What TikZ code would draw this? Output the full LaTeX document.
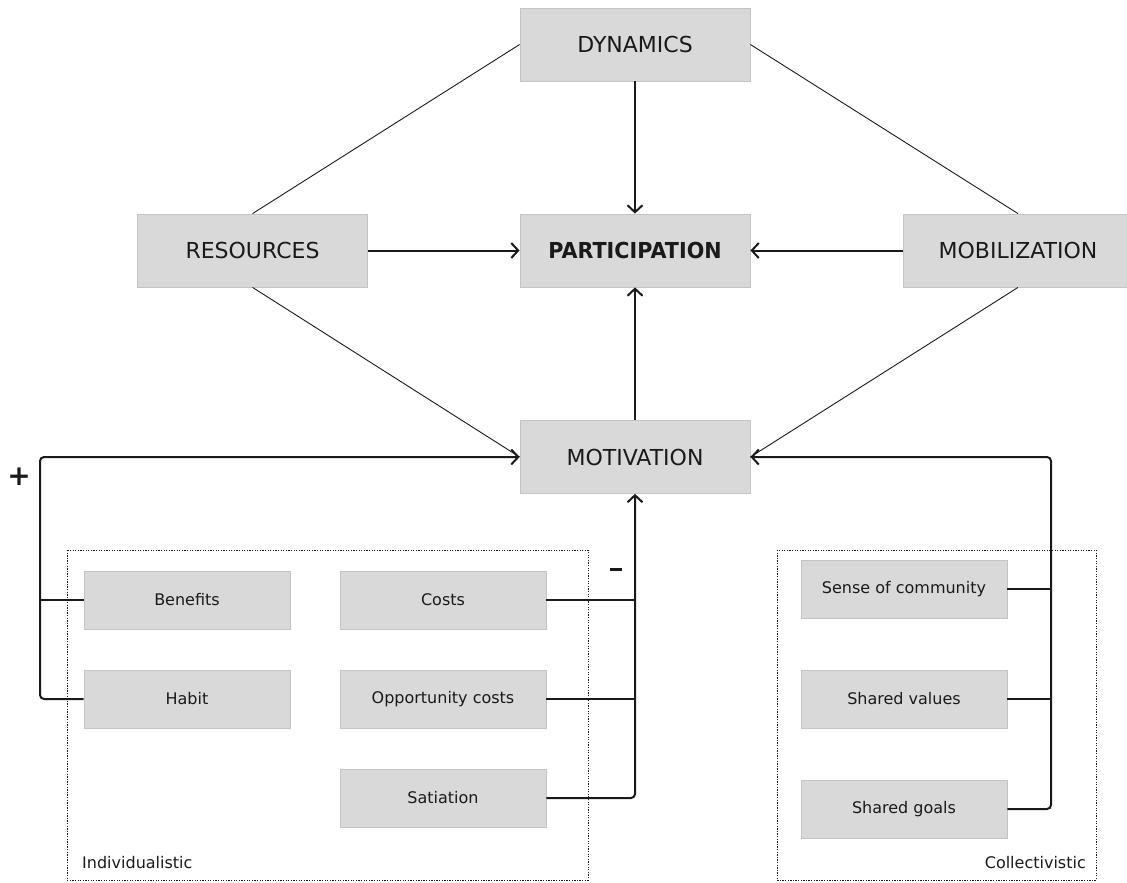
\documentclass[tikz,border=0pt]{standalone}
\usepackage{fontspec}
\setmainfont{DejaVu Sans}
\newfontfamily\pfont[FakeStretch=0.94]{DejaVu Sans}
\usetikzlibrary{arrows.meta}
\definecolor{boxfill}{HTML}{D9D9D9}
\definecolor{boxline}{HTML}{C4C4C4}
\definecolor{ink}{HTML}{1A1A1A}
\tikzset{
  bigbox/.style={rectangle, fill=boxfill, draw=boxline, line width=0.8pt,
    minimum width=230pt, minimum height=73pt, inner sep=0pt, text=ink,
    font=\fontsize{22}{26}\selectfont},
  smallbox/.style={rectangle, fill=boxfill, draw=boxline, line width=0.8pt,
    minimum width=206pt, minimum height=58pt, inner sep=0pt, text=ink,
    font=\fontsize{16}{19}\selectfont},
  thinline/.style={line width=0.9pt, draw=ink},
  thickline/.style={line width=2pt, draw=ink},
  arr/.style={thickline, -{Straight Barb[length=7pt,width=15pt]}},
  dotbox/.style={draw=ink, line width=0.9pt, dash pattern=on 1.3pt off 1.3pt},
  grouplabel/.style={text=ink, inner sep=0pt, font=\fontsize{16}{19}\selectfont},
  sign/.style={text=ink, inner sep=0pt, font=\fontsize{28}{32}\selectfont\bfseries}
}
\begin{document}
\begin{tikzpicture}[x=1pt, y=-1pt]
\useasboundingbox (0,0) rectangle (1127,883);

% group frames
\draw[dotbox] (67,550) rectangle (588,880);
\draw[dotbox] (777,550) rectangle (1096,880);
\node[grouplabel, anchor=base west] (indl) at (82,868) {Individualistic};
\node[grouplabel, anchor=base east] (coll) at (1086,868) {Collectivistic};

% main nodes
\node[bigbox] (dyn) at (635,44.5) {DYNAMICS};
\node[bigbox, font=\fontsize{22}{26}\pfont\bfseries] (part) at (635,250.5) {PARTICIPATION};
\node[bigbox] (res) at (252.5,250.5) {RESOURCES};
\node[bigbox] (mob) at (1018,250.5) {MOBILIZATION};
\node[bigbox] (mot) at (635,457) {MOTIVATION};

% small nodes
\node[smallbox] (ben) at (187,600) {Benefits};
\node[smallbox] (hab) at (187,699) {Habit};
\node[smallbox] (cost) at (443,600) {Costs};
\node[smallbox] (opp) at (443,699) {Opportunity costs};
\node[smallbox] (sat) at (443,798) {Satiation};
\node[smallbox] (soc) at (904,589) {Sense of community};
\node[smallbox] (sv) at (904,699) {Shared values};
\node[smallbox] (sg) at (904,809) {Shared goals};

% thin diagonals
\draw[thinline] (dyn.west) -- (res.north);
\draw[thinline] (dyn.east) -- (mob.north);
\draw[thinline] (res.south) -- (mot.west);
\draw[thinline] (mob.south) -- (mot.east);

% arrows into participation
\draw[arr] (dyn.south) -- (part.north);
\draw[arr] (res.east) -- (part.west);
\draw[arr] (mob.west) -- (part.east);
\draw[arr] (mot.north) -- (part.south);

% positive bracket
\coordinate (pl) at (40,457);
\draw[arr, rounded corners=4pt] (hab.west) -| (pl) -- (mot.west);
\draw[thickline] (ben.west) -- (ben.west -| pl);
\node[sign] (plus) at (19,477) {+};

% negative bracket
\draw[arr, rounded corners=4pt] (sat.east) -| (mot.south);
\draw[thickline] (cost.east) -- (cost.east -| mot.south);
\draw[thickline] (opp.east) -- (opp.east -| mot.south);
\node[sign] (minus) at (616,569) {\textcolor{ink}{\rule{12pt}{3pt}}};

% collective bracket
\coordinate (pr) at (1051,457);
\draw[arr, rounded corners=4pt] (sg.east) -| (pr) -- (mot.east);
\draw[thickline] (soc.east) -- (soc.east -| pr);
\draw[thickline] (sv.east) -- (sv.east -| pr);
\end{tikzpicture}
\end{document}
